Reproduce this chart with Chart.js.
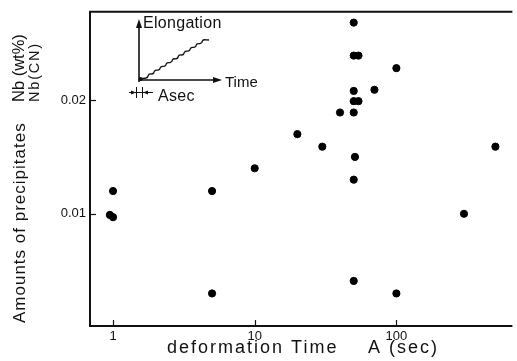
<!DOCTYPE html>
<html>
<head>
<meta charset="utf-8">
<title>Amounts of precipitates vs deformation time</title>
<script src="https://cdn.jsdelivr.net/npm/chart.js@4.4.1/dist/chart.umd.min.js"></script>
<style>
  html, body { margin: 0; padding: 0; background: #fff; }
  #wrap { width: 517px; height: 361px; }
</style>
</head>
<body>
<div id="wrap"><canvas id="precipChart"></canvas></div>
<script>
// deformation time A (sec) and precipitated Nb(CN) (wt%)
const deformTime = [1, 0.95, 1, 5, 5, 10, 20, 30, 40, 50, 50, 54, 100, 50, 70, 50, 54, 50, 51, 50, 500, 300, 50, 100];
const nbAmount = [0.0120, 0.0099, 0.0097, 0.0120, 0.0030, 0.0140, 0.0170, 0.0159, 0.0189, 0.0268, 0.0239, 0.0239,
                  0.0228, 0.0208, 0.0209, 0.0199, 0.0199, 0.0189, 0.0150, 0.0130, 0.0159, 0.0100, 0.0041, 0.0030];
const xTicks = [1, 10, 100];
const yTicks = [0.01, 0.02];

const FONT = '"Liberation Sans", Arial, sans-serif';

function txt(ctx, s, x, y, size, spacing, align, baseline) {
    ctx.font = size + 'px ' + FONT;
    ctx.letterSpacing = (spacing || 0) + 'px';
    ctx.textAlign = align || 'left';
    ctx.textBaseline = baseline || 'alphabetic';
    ctx.fillText(s, x, y);
    ctx.letterSpacing = '0px';
}

function arrowHead(ctx, x, y, dir, len, half) {
    len = len || 9; half = half || 3;
    ctx.beginPath();
    if (dir === 'up') {
        ctx.moveTo(x, y); ctx.lineTo(x - half, y + len); ctx.lineTo(x + half, y + len);
    } else if (dir === 'right') {
        ctx.moveTo(x, y); ctx.lineTo(x - len, y - half); ctx.lineTo(x - len, y + half);
    } else {
        ctx.moveTo(x, y); ctx.lineTo(x + len, y - half); ctx.lineTo(x + len, y + half);
    }
    ctx.closePath();
    ctx.fill();
}

// frame, inward ticks, titles and the small elongation sketch
const framePlugin = {
    id: 'frame',
    afterDraw(chart) {
        const ctx = chart.ctx;
        const a = chart.chartArea;
        const xs = chart.scales.x, ys = chart.scales.y;
        ctx.save();
        ctx.strokeStyle = '#111';
        ctx.fillStyle = '#111';

        ctx.lineWidth = 2;
        ctx.beginPath();
        ctx.moveTo(a.right, a.top);
        ctx.lineTo(a.left, a.top);
        ctx.lineTo(a.left, a.bottom);
        ctx.lineTo(a.right, a.bottom);
        ctx.stroke();

        ctx.lineWidth = 1.2;
        xTicks.forEach(v => {
            const px = Math.round(xs.getPixelForValue(v)) + 0.5;
            ctx.beginPath(); ctx.moveTo(px, a.bottom); ctx.lineTo(px, a.bottom - 6); ctx.stroke();
        });
        yTicks.forEach(v => {
            const py = Math.round(ys.getPixelForValue(v)) + 0.5;
            ctx.beginPath(); ctx.moveTo(a.left, py); ctx.lineTo(a.left + 6, py); ctx.stroke();
        });

        // axis titles
        txt(ctx, 'deformation Time', 167, 353, 18, 2);
        txt(ctx, 'A (sec)', 368, 353, 18, 2);

        ctx.save();
        ctx.translate(25, 323);
        ctx.rotate(-Math.PI / 2);
        txt(ctx, 'Amounts of precipitates', 0, 0, 17, 1);
        ctx.restore();

        ctx.save();
        ctx.translate(24, 102);
        ctx.rotate(-Math.PI / 2);
        txt(ctx, 'Nb (wt%)', 0, 0, 16.5, 0);
        ctx.restore();
        ctx.save();
        ctx.translate(39, 102);
        ctx.rotate(-Math.PI / 2);
        txt(ctx, 'Nb(CN)', 0, 0, 14.5, 1.8);
        ctx.restore();

        // elongation vs time sketch
        const ox = 139, oy = 80;
        ctx.lineWidth = 1.6;
        ctx.beginPath();
        ctx.moveTo(ox, oy + 2); ctx.lineTo(ox, 26);
        ctx.moveTo(ox, oy); ctx.lineTo(214, oy);
        ctx.stroke();
        arrowHead(ctx, ox, 19, 'up');
        arrowHead(ctx, 222, oy, 'right');

        ctx.lineWidth = 1.3;
        ctx.beginPath();
        ctx.moveTo(ox + 1, oy - 1);
        ctx.lineTo(ox + 7, oy - 2);
        let sx = ox + 7, sy = oy - 2;
        for (let i = 0; i < 10; i++) {
            ctx.quadraticCurveTo(sx + 2, sy - 0.5, sx + 2.5, sy - 3);
            ctx.quadraticCurveTo(sx + 3, sy - 4.3, sx + 6, sy - 4);
            sx += 6; sy -= 3.8;
        }
        ctx.lineTo(sx + 3, sy);
        ctx.stroke();
        ctx.beginPath(); ctx.arc(ox + 1.5, oy - 1, 2, 0, Math.PI * 2); ctx.fill();

        // step width marker
        ctx.lineWidth = 1;
        ctx.beginPath();
        ctx.moveTo(129, 92.5); ctx.lineTo(153, 92.5);
        ctx.moveTo(136.5, 87); ctx.lineTo(136.5, 98);
        ctx.moveTo(142.5, 87); ctx.lineTo(142.5, 98);
        ctx.stroke();
        arrowHead(ctx, 136, 92.5, 'right', 5, 2);
        arrowHead(ctx, 143, 92.5, 'left', 5, 2);

        txt(ctx, 'Elongation', 143, 28, 16, 0.3);
        txt(ctx, 'Time', 225, 87, 15, 0);
        txt(ctx, 'Asec', 158, 101, 16, 0.3);
        ctx.restore();
    }
};

new Chart(document.getElementById('precipChart'), {
    type: 'scatter',
    data: {
        datasets: [{
            data: deformTime.map((t, i) => ({ x: t, y: nbAmount[i] })),
            backgroundColor: '#000',
            borderColor: '#000',
            pointRadius: 3.6,
            pointHoverRadius: 3.6,
            clip: false
        }]
    },
    options: {
        responsive: true,
        maintainAspectRatio: false,
        animation: false,
        events: [],
        layout: { padding: { top: 11, right: 0, left: 0, bottom: 0 } },
        plugins: { legend: { display: false }, tooltip: { enabled: false } },
        scales: {
            x: {
                type: 'logarithmic',
                min: 0.6877,
                max: 659,
                border: { display: false },
                grid: { display: false, drawTicks: false },
                afterBuildTicks: s => { s.ticks = xTicks.map(v => ({ value: v })); },
                afterFit: s => { s.height = 35; },
                ticks: {
                    autoSkip: false,
                    maxRotation: 0,
                    padding: 3,
                    color: '#111',
                    font: { family: FONT, size: 13 },
                    callback: v => String(v)
                }
            },
            y: {
                type: 'linear',
                min: 0.00014,
                max: 0.02775,
                border: { display: false },
                grid: { display: false, drawTicks: false },
                afterBuildTicks: s => { s.ticks = yTicks.map(v => ({ value: v })); },
                afterFit: s => { s.width = 90; },
                ticks: {
                    padding: 4,
                    color: '#111',
                    font: { family: FONT, size: 13 },
                    callback: v => v.toFixed(2)
                }
            }
        }
    },
    plugins: [framePlugin]
});
</script>
</body>
</html>
